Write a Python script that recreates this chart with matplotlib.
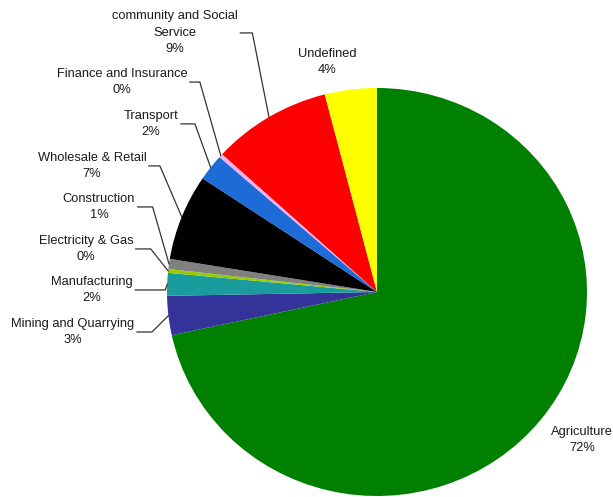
import numpy as np
import matplotlib.pyplot as plt

plt.rcParams['font.family'] = ['Liberation Sans', 'DejaVu Sans']

sectors = ['Agriculture', 'Mining and Quarrying', 'Manufacturing', 'Electricity & Gas',
           'Construction', 'Wholesale & Retail', 'Transport', 'Finance and Insurance',
           'community and Social\nService', 'Undefined']
shares = [71.6, 3.1, 1.8, 0.3, 0.8, 6.8, 2.1, 0.3, 9.2, 4.0]
colors = ['#008000', '#333399', '#1a9c9c', '#99cc00', '#808080', '#000000',
          '#1c6bd6', '#f0b0f0', '#ff0000', '#ffff00']

# label centres (data units) and length of the horizontal leader stub in px (0 = no leader)
label_pos = [(0.976, -0.725), (-1.448, -0.196), (-1.357, 0.010), (-1.386, 0.211),
             (-1.324, 0.417), (-1.357, 0.618), (-1.076, 0.824), (-1.214, 1.029),
             (-0.962, 1.270), (-0.238, 1.127)]
stub = [0, 15, 30, 15, 15, 11, 14, 10, 12, 0]

W, H = 613, 497
cx, cy = 377, 292      # pie centre in px from top-left
rx, ry = 210, 204      # slightly stretched horizontally

fig = plt.figure(figsize=(W / 100, H / 100), dpi=100)
ax = fig.add_axes([0, 0, 1, 1])
wedges, _ = ax.pie(shares, colors=colors, startangle=90, counterclock=False,
                   radius=1, wedgeprops=dict(linewidth=0))
ax.set_aspect('auto')
ax.set_xlim(-cx / rx, (W - cx) / rx)
ax.set_ylim(-(H - cy) / ry, cy / ry)
ax.axis('off')

total = sum(shares)
texts = []
for name, v, (tx, ty) in zip(sectors, shares, label_pos):
    t = ax.text(tx, ty, f"{name}\n{v / total * 100:.0f}%", ha='center', va='center',
                fontsize=9.3, color='#1a1a1a', linespacing=1.5)
    texts.append(t)

fig.canvas.draw()
r = fig.canvas.get_renderer()
for w, t, s in zip(wedges, texts, stub):
    if s == 0:
        continue
    bb = t.get_window_extent(r).transformed(ax.transData.inverted())
    mid = np.deg2rad((w.theta1 + w.theta2) / 2)
    x0 = bb.x1 + 2.5 / rx
    yk = (bb.y0 + bb.y1) / 2
    xk = x0 + s / rx
    ax.plot([x0, xk, np.cos(mid)], [yk, yk, np.sin(mid)], color='#333333', lw=0.9)

fig.savefig('out.png', dpi=100)
